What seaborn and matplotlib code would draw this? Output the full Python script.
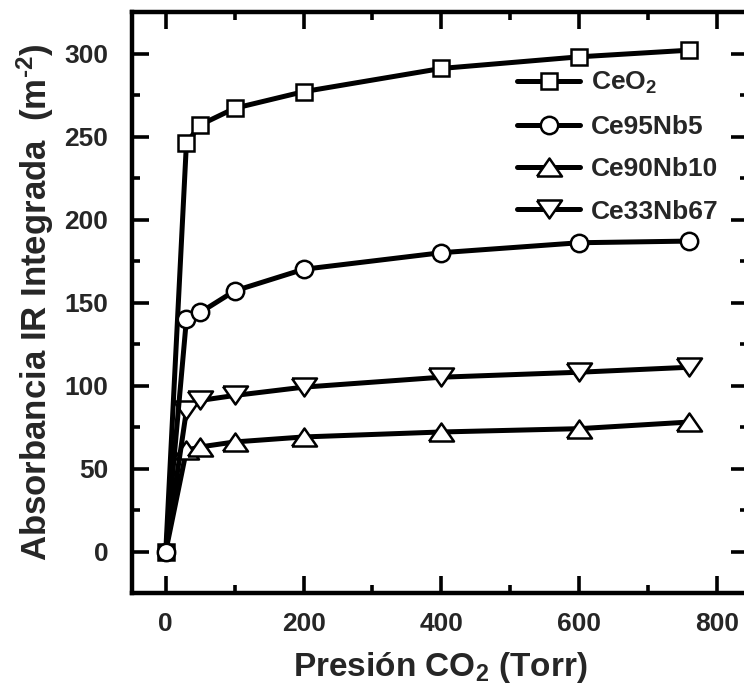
import matplotlib
matplotlib.use("Agg")
import matplotlib.pyplot as plt
import seaborn as sns
import pandas as pd
from matplotlib.ticker import MultipleLocator

# CO2 pressure (Torr) and integrated IR absorbance (m^-2) per sample
pressure = [0, 30, 50, 100, 200, 400, 600, 760]
ceo2 = [0, 246, 257, 267, 277, 291, 298, 302]
ce95nb5 = [0, 140, 144, 157, 170, 180, 186, 187]
ce90nb10 = [0, 61, 63, 66, 69, 72, 74, 78]
ce33nb67 = [0, 85, 91, 94, 99, 105, 108, 111]

labels = ["CeO$_2$", "Ce95Nb5", "Ce90Nb10", "Ce33Nb67"]
series = [ceo2, ce95nb5, ce90nb10, ce33nb67]

sns.set_theme(style="ticks")
plt.rcParams["font.family"] = ["Liberation Sans", "DejaVu Sans"]
plt.rcParams["font.weight"] = "bold"
plt.rcParams["mathtext.fontset"] = "custom"
plt.rcParams["mathtext.rm"] = "Liberation Sans:bold"
plt.rcParams["mathtext.bf"] = "Liberation Sans:bold"
plt.rcParams["mathtext.default"] = "bf"

df = pd.DataFrame(
    [(p, v, lab) for lab, vals in zip(labels, series) for p, v in zip(pressure, vals)],
    columns=["pressure", "absorbance", "sample"],
)

# wide, flat triangles
tri_up = [(-1, -0.72), (1, -0.72), (0, 0.72), (-1, -0.72)]
tri_dn = [(-1, 0.72), (1, 0.72), (0, -0.72), (-1, 0.72)]
# marker, size, zorder, first marked point
markers = {"CeO$_2$": ("s", 11.5, 3, 0), "Ce95Nb5": ("o", 12.5, 6, 0),
           "Ce90Nb10": (tri_up, 18, 3, 1), "Ce33Nb67": (tri_dn, 18, 3, 1)}

fig = plt.figure(figsize=(7.44, 6.88), dpi=100)
ax = fig.add_axes([132 / 744, 1 - 593 / 688, 616 / 744, 581 / 688])

for lab in labels:
    m, ms, z, start = markers[lab]
    sns.lineplot(data=df[df["sample"] == lab], x="pressure", y="absorbance",
                 ax=ax, color="black", linewidth=3.6, marker=m, markersize=ms,
                 markerfacecolor="white", markeredgecolor="black",
                 markeredgewidth=1.8, label=lab, zorder=z, errorbar=None,
                 markevery=slice(start, None))

ax.set_xlim(-49, 845)
ax.set_ylim(-25, 325)
ax.xaxis.set_major_locator(MultipleLocator(200))
ax.xaxis.set_minor_locator(MultipleLocator(100))
ax.yaxis.set_major_locator(MultipleLocator(50))
ax.yaxis.set_minor_locator(MultipleLocator(25))

ax.tick_params(which="both", direction="in", top=True, right=True,
               width=2.6, color="black")
ax.tick_params(which="major", length=12.5)
ax.tick_params(which="minor", length=6)
ax.tick_params(axis="x", which="major", pad=14, labelsize=19)
ax.tick_params(axis="y", which="major", pad=17, labelsize=19)
for lbl in ax.get_xticklabels() + ax.get_yticklabels():
    lbl.set_fontweight("bold")
for sp in ax.spines.values():
    sp.set_linewidth(3.2)
    sp.set_color("black")

ax.set_xlabel("Presión CO$_2$ (Torr)", fontsize=24, fontweight="bold", labelpad=10)
ax.set_ylabel("Absorbancia IR Integrada  (m$^{\\text{-}2}$)", fontsize=25,
              fontweight="bold", labelpad=6)

leg = ax.legend(loc="upper left", bbox_to_anchor=(0.625, 0.9), frameon=False,
                fontsize=19, handlelength=2.4, handletextpad=0.4,
                labelspacing=0.7, borderpad=0, borderaxespad=0)
for t in leg.get_texts():
    t.set_fontweight("bold")

fig.savefig("out.png", dpi=100)
